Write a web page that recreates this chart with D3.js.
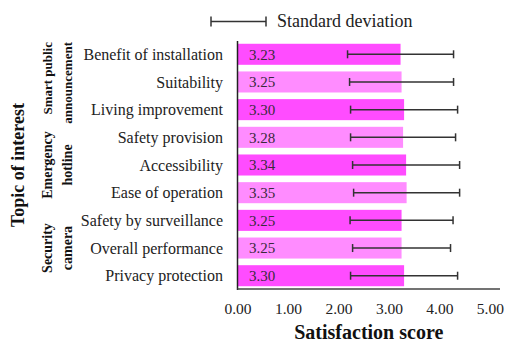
<!DOCTYPE html>
<html>
<head>
<meta charset="utf-8">
<script src="https://cdn.jsdelivr.net/npm/d3@7"></script>
<style>
  html, body { margin: 0; padding: 0; background: #fff; }
  svg { display: block; }
  text { font-family: "Liberation Serif", "Times New Roman", serif; }
</style>
</head>
<body>
<svg id="chart" width="508" height="343"></svg>
<script>
const categories = [
  "Benefit of installation", "Suitability", "Living improvement",
  "Safety provision", "Accessibility", "Ease of operation",
  "Safety by surveillance", "Overall performance", "Privacy protection"
];
const values = [3.23, 3.25, 3.30, 3.28, 3.34, 3.35, 3.25, 3.25, 3.30];
const sds = [1.05, 1.03, 1.06, 1.04, 1.06, 1.05, 1.02, 0.97, 1.06];
const groupNames = [
  ["Smart public", "announcement"],
  ["Emergency", "hotline"],
  ["Security", "camera"]
];
const groupSpans = [[0, 2], [3, 5], [6, 8]];
const xTicks = [0, 1, 2, 3, 4, 5];

const svg = d3.select("#chart");
const mLeft = 237.5, mRight = 500, mTop = 41, mBottom = 289;

const x = d3.scaleLinear().domain([0, 5.2]).range([mLeft, mRight]);
const y = d3.scaleBand().domain(categories).range([mTop, mBottom]).paddingInner(0.24).paddingOuter(0.1);

const colors = ["#ff4cff", "#ff8cff"];

// bars
svg.append("g").selectAll("rect").data(categories).join("rect")
  .attr("x", x(0))
  .attr("y", d => y(d))
  .attr("width", (d, i) => x(values[i]) - x(0))
  .attr("height", y.bandwidth())
  .attr("fill", (d, i) => colors[i % 2]);

// value labels
svg.append("g").selectAll("text").data(categories).join("text")
  .attr("x", x(0) + 11.5)
  .attr("y", d => y(d) + y.bandwidth() / 2)
  .attr("dy", "0.35em")
  .attr("font-size", 15)
  .attr("fill", "#3a2a3a")
  .text((d, i) => values[i].toFixed(2));

// error bars
const eb = svg.append("g").attr("stroke", "#333").attr("stroke-width", 1.5).attr("fill", "none");
categories.forEach((c, i) => {
  const cy = y(c) + y.bandwidth() / 2;
  const x1 = x(values[i] - sds[i]), x2 = x(values[i] + sds[i]);
  eb.append("line").attr("x1", x1).attr("x2", x2).attr("y1", cy).attr("y2", cy);
  eb.append("line").attr("x1", x1).attr("x2", x1).attr("y1", cy - 4).attr("y2", cy + 4);
  eb.append("line").attr("x1", x2).attr("x2", x2).attr("y1", cy - 4).attr("y2", cy + 4);
});

// axes lines
svg.append("line").attr("x1", mLeft).attr("x2", mLeft).attr("y1", mTop).attr("y2", mBottom + 1)
  .attr("stroke", "#222").attr("stroke-width", 1.5);
svg.append("line").attr("x1", mLeft).attr("x2", mRight).attr("y1", mBottom).attr("y2", mBottom)
  .attr("stroke", "#444").attr("stroke-width", 1.5);

// x axis tick labels
const xAxis = d3.axisBottom(x).tickValues(xTicks).tickSize(0).tickPadding(14)
  .tickFormat(d => d.toFixed(2));
const gx = svg.append("g").attr("transform", `translate(0,${mBottom})`).call(xAxis);
gx.select(".domain").remove();
gx.selectAll("text").attr("font-size", 15.5).attr("fill", "#222")
  .attr("font-family", "Liberation Serif, serif");

// category labels
svg.append("g").selectAll("text").data(categories).join("text")
  .attr("x", 223)
  .attr("y", d => y(d) + y.bandwidth() / 2)
  .attr("dy", "0.35em")
  .attr("text-anchor", "end")
  .attr("font-size", 16)
  .attr("fill", "#222")
  .text(d => d);

// group labels
groupNames.forEach((lines, gi) => {
  const [a, b] = groupSpans[gi];
  const yc = (y(categories[a]) + y(categories[b]) + y.bandwidth()) / 2;
  lines.forEach((ln, li) => {
    const xx = 52 + li * 20;
    const t = svg.append("text")
      .attr("font-weight", "bold")
      .attr("fill", "#111")
      .text(ln);
    if (gi === 0) {
      t.attr("font-size", 13).attr("text-anchor", "end")
        .attr("transform", `translate(${xx},42) rotate(-90)`);
    } else {
      t.attr("font-size", 14).attr("text-anchor", "middle")
        .attr("transform", `translate(${xx},${yc}) rotate(-90)`);
    }
  });
});

// y axis title
svg.append("text")
  .attr("transform", `translate(24,${(mTop + mBottom) / 2}) rotate(-90)`)
  .attr("text-anchor", "middle")
  .attr("font-size", 18)
  .attr("font-weight", "bold")
  .attr("fill", "#111")
  .text("Topic of interest");

// x axis title
svg.append("text")
  .attr("x", (mLeft + mRight) / 2)
  .attr("y", 339)
  .attr("text-anchor", "middle")
  .attr("font-size", 20)
  .attr("font-weight", "bold")
  .attr("fill", "#111")
  .text("Satisfaction score");

// legend
const lg = svg.append("g").attr("stroke", "#333").attr("stroke-width", 1.5);
lg.append("line").attr("x1", 211).attr("x2", 266).attr("y1", 21.5).attr("y2", 21.5);
lg.append("line").attr("x1", 211).attr("x2", 211).attr("y1", 16.5).attr("y2", 26.5);
lg.append("line").attr("x1", 266).attr("x2", 266).attr("y1", 16.5).attr("y2", 26.5);
svg.append("text").attr("x", 277).attr("y", 27)
  .attr("font-size", 18).attr("fill", "#222").text("Standard deviation");
</script>
</body>
</html>
